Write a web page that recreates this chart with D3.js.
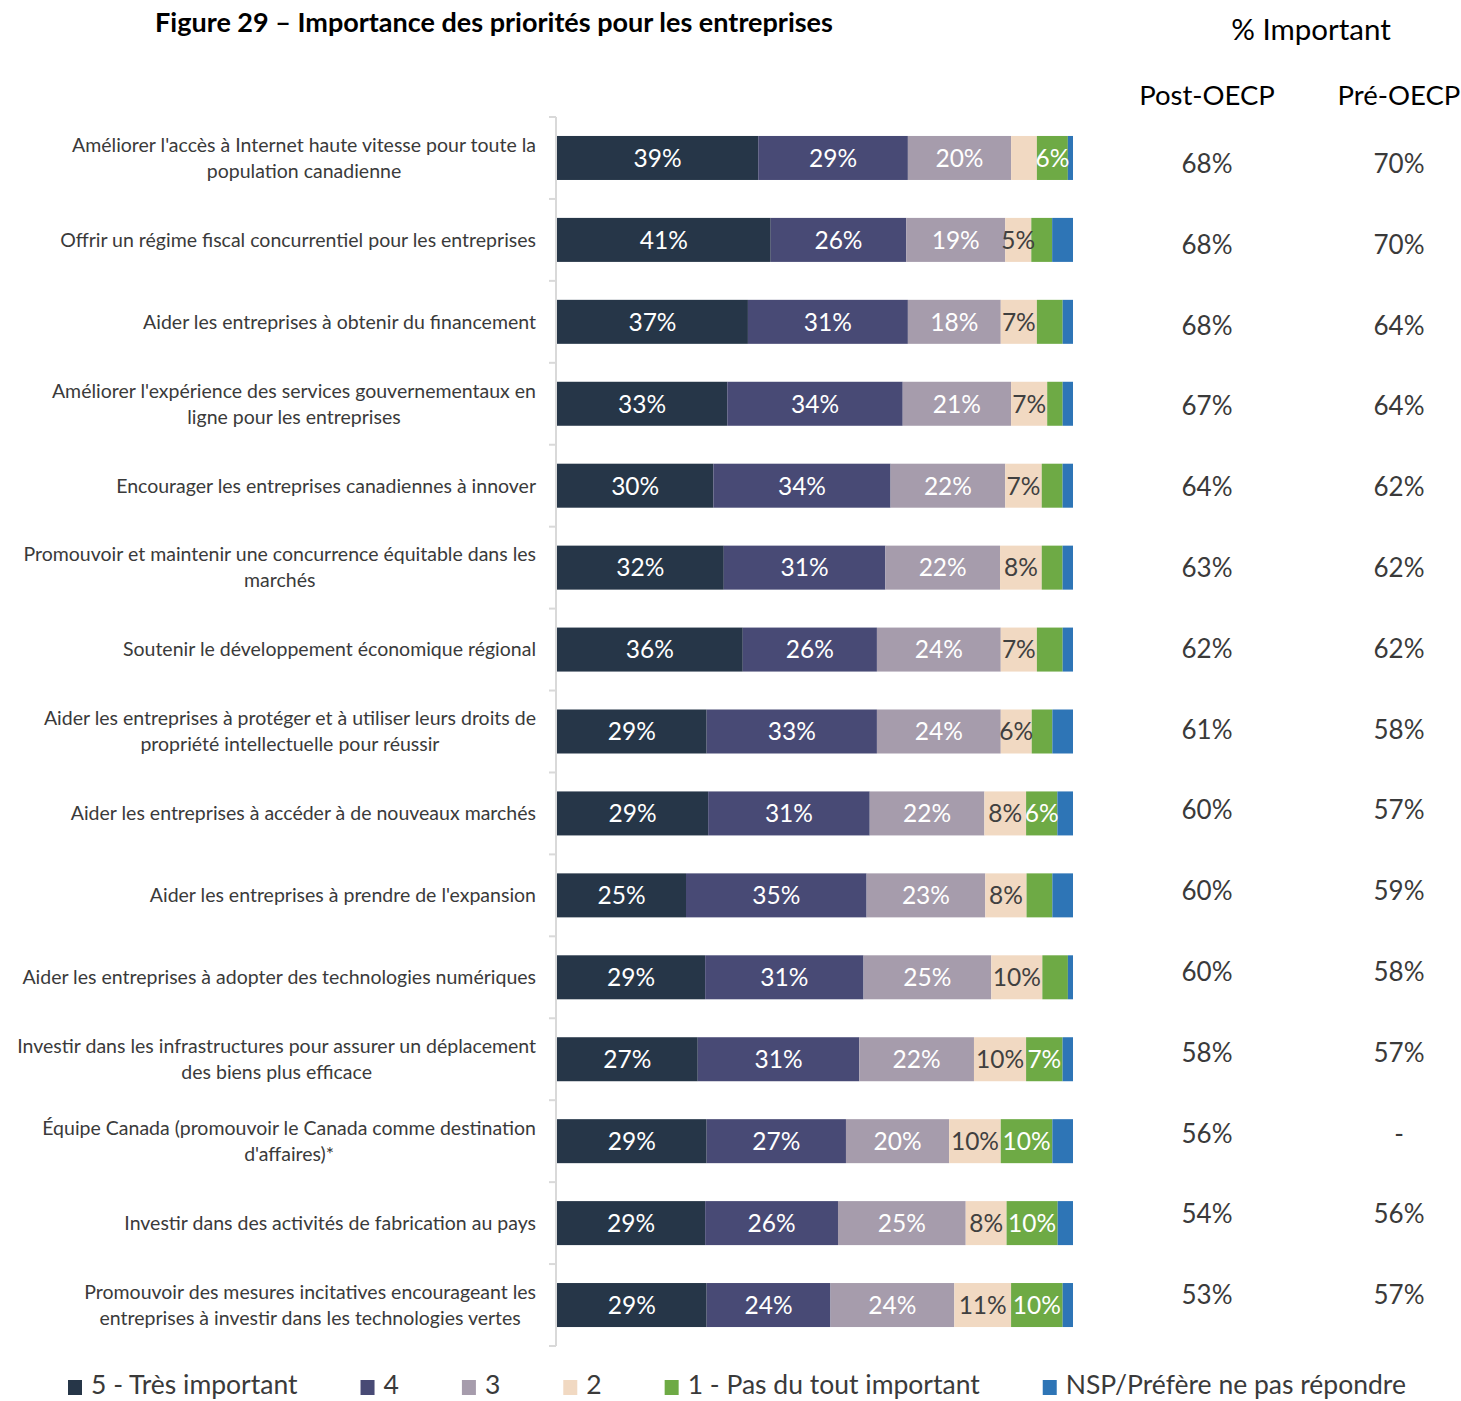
<!DOCTYPE html>
<html>
<head>
<meta charset="utf-8">
<script src="https://cdn.jsdelivr.net/npm/d3@7"></script>
<style>
  body { margin: 0; background: #fff; }
  svg text { font-family: Lato, "Open Sans", "Noto Sans", sans-serif; }
</style>
</head>
<body>
<svg id="chart" width="1461" height="1401"></svg>
<script>
// Priorities (rows of the stacked bar chart)
const categories = [
  "Améliorer l'accès à Internet haute vitesse pour toute la\npopulation canadienne",
  "Offrir un régime fiscal concurrentiel pour les entreprises",
  "Aider les entreprises à obtenir du financement",
  "Améliorer l'expérience des services gouvernementaux en\nligne pour les entreprises",
  "Encourager les entreprises canadiennes à innover",
  "Promouvoir et maintenir une concurrence équitable dans les\nmarchés",
  "Soutenir le développement économique régional",
  "Aider les entreprises à protéger et à utiliser leurs droits de\npropriété intellectuelle pour réussir",
  "Aider les entreprises à accéder à de nouveaux marchés",
  "Aider les entreprises à prendre de l'expansion",
  "Aider les entreprises à adopter des technologies numériques",
  "Investir dans les infrastructures pour assurer un déplacement\ndes biens plus efficace",
  "Équipe Canada (promouvoir le Canada comme destination\nd'affaires)*",
  "Investir dans des activités de fabrication au pays",
  "Promouvoir des mesures incitatives encourageant les\nentreprises à investir dans les technologies vertes"
];

// Response levels
const seriesNames = ["5 - Très important", "4", "3", "2", "1 - Pas du tout important", "NSP/Préfère ne pas répondre"];

// Share of respondents (%) for each level
const veryImportant = [39, 41, 37, 33, 30, 32, 36, 29, 29, 25, 29, 27, 29, 29, 29];
const level4        = [29, 26, 31, 34, 34, 31, 26, 33, 31, 35, 31, 31, 27, 26, 24];
const level3        = [20, 19, 18, 21, 22, 22, 24, 24, 22, 23, 25, 22, 20, 25, 24];
const level2        = [5, 5, 7, 7, 7, 8, 7, 6, 8, 8, 10, 10, 10, 8, 11];
const notImportant  = [6, 4, 5, 3, 4, 4, 5, 4, 6, 5, 5, 7, 10, 10, 10];
const dontKnow      = [1, 4, 2, 2, 2, 2, 2, 4, 3, 4, 1, 2, 4, 3, 2];

// "% Important" table
const postOECP = ["68%", "68%", "68%", "67%", "64%", "63%", "62%", "61%", "60%", "60%", "60%", "58%", "56%", "54%", "53%"];
const preOECP  = ["70%", "70%", "64%", "64%", "62%", "62%", "62%", "58%", "57%", "59%", "58%", "57%", "-", "56%", "57%"];

// Smallest value that gets a data label, per level; plus individual labels left off
const labelMin = [0, 0, 0, 0, 6, Infinity];
const hiddenLabels = [[0, 3]];

const colors = ["#263648", "#484a75", "#a69cac", "#f1d9c2", "#6eaa45", "#2e75b6"];
const labelColors = ["#ffffff", "#ffffff", "#ffffff", "#404040", "#ffffff", "#ffffff"];

const seriesValues = [veryImportant, level4, level3, level2, notImportant, dontKnow];
const rows = categories.map((c, i) => {
  const r = { category: c, index: i };
  seriesNames.forEach((s, k) => { r[s] = seriesValues[k][i]; });
  return r;
});

const svg = d3.select("#chart");
const textColor = "#3a3a3a";

// Title
svg.append("text")
  .attr("x", 494).attr("y", 32)
  .attr("text-anchor", "middle")
  .attr("font-size", 27).attr("font-weight", "bold")
  .attr("fill", "#000")
  .text("Figure 29 – Importance des priorités pour les entreprises");

// Scales
const y = d3.scaleBand()
  .domain(d3.range(categories.length))
  .range([117, 1346])
  .paddingInner(0.463)
  .paddingOuter(0.2315);

const x = d3.scaleLinear().domain([0, 1]).range([557, 1073]);

const stack = d3.stack().keys(seriesNames).offset(d3.stackOffsetExpand);
const stacked = stack(rows);

// Category axis: vertical line with ticks at band boundaries
const axisG = svg.append("g");
axisG.append("line")
  .attr("x1", 556).attr("x2", 556)
  .attr("y1", 117).attr("y2", 1346)
  .attr("stroke", "#d9d9d9").attr("stroke-width", 2);
axisG.selectAll("line.tick")
  .data(d3.range(categories.length + 1))
  .join("line")
  .attr("class", "tick")
  .attr("x1", 549).attr("x2", 556)
  .attr("y1", i => 117 + i * y.step())
  .attr("y2", i => 117 + i * y.step())
  .attr("stroke", "#d9d9d9").attr("stroke-width", 2);

// Bars
const layers = svg.append("g").selectAll("g")
  .data(stacked)
  .join("g")
  .attr("fill", (d, k) => colors[k]);

layers.selectAll("rect")
  .data(d => d)
  .join("rect")
  .attr("x", d => x(d[0]))
  .attr("y", d => y(d.data.index))
  .attr("width", d => x(d[1]) - x(d[0]))
  .attr("height", y.bandwidth());

// Data labels
const isHidden = (i, k) => hiddenLabels.some(h => h[0] === i && h[1] === k);
stacked.forEach((layer, k) => {
  svg.append("g").selectAll("text")
    .data(layer.filter(d => {
      const v = d.data[seriesNames[k]];
      return v >= labelMin[k] && !isHidden(d.data.index, k);
    }))
    .join("text")
    .attr("x", d => (x(d[0]) + x(d[1])) / 2)
    .attr("y", d => y(d.data.index) + y.bandwidth() / 2)
    .attr("dy", "0.36em")
    .attr("text-anchor", "middle")
    .attr("font-size", 24.5)
    .attr("fill", labelColors[k])
    .text(d => d.data[seriesNames[k]] + "%");
});

// Category labels: block right-aligned to the axis, lines centred in the block
const labelG = svg.append("g");
categories.forEach((c, i) => {
  const lines = c.split("\n");
  const g = labelG.append("g");
  const lineH = 26;
  const cy = y(i) + y.bandwidth() / 2;
  const texts = lines.map((ln, j) => g.append("text")
    .attr("y", cy + (j - (lines.length - 1) / 2) * lineH)
    .attr("dy", "0.35em")
    .attr("text-anchor", "middle")
    .attr("font-size", 19.5)
    .attr("fill", textColor)
    .text(ln));
  const w = d3.max(texts, t => t.node().getComputedTextLength());
  texts.forEach(t => t.attr("x", 536 - w / 2));
});

// "% Important" table
svg.append("text")
  .attr("x", 1311).attr("y", 30).attr("dy", "0.35em")
  .attr("text-anchor", "middle").attr("font-size", 29.5).attr("fill", "#000")
  .text("% Important");
const cols = [{ name: "Post-OECP", x: 1207, values: postOECP }, { name: "Pré-OECP", x: 1399, values: preOECP }];
const tableY = d3.scalePoint().domain(d3.range(categories.length)).range([164, 1295]);
cols.forEach(col => {
  svg.append("text")
    .attr("x", col.x).attr("y", 95).attr("dy", "0.35em")
    .attr("text-anchor", "middle").attr("font-size", 27.5).attr("fill", "#000")
    .text(col.name);
  svg.append("g").selectAll("text")
    .data(col.values)
    .join("text")
    .attr("x", col.x)
    .attr("y", (d, i) => tableY(i))
    .attr("dy", "0.35em")
    .attr("text-anchor", "middle")
    .attr("font-size", 26)
    .attr("fill", textColor)
    .text(d => d);
});

// Legend
const legend = svg.append("g");
let lx = 68;
seriesNames.forEach((s, k) => {
  legend.append("rect")
    .attr("x", lx).attr("y", 1380)
    .attr("width", 14).attr("height", 15)
    .attr("fill", colors[k]);
  const t = legend.append("text")
    .attr("x", lx + 23).attr("y", 1385).attr("dy", "0.35em")
    .attr("font-size", 26.5).attr("fill", textColor)
    .text(s);
  lx += 23 + t.node().getComputedTextLength() + 63;
});
</script>
</body>
</html>
